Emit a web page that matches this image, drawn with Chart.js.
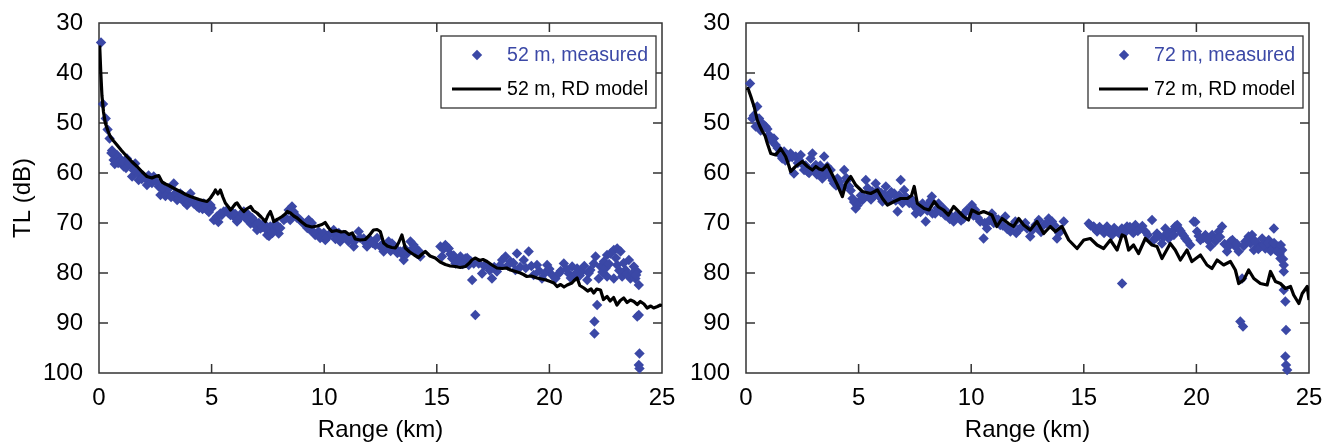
<!DOCTYPE html>
<html>
<head>
<meta charset="utf-8">
<title>TL vs range</title>
<script src="https://cdn.jsdelivr.net/npm/chart.js@4.4.1/dist/chart.umd.min.js"></script>
<style>
  html, body { margin: 0; padding: 0; background: #fff; }
  #wrap { position: relative; width: 1334px; height: 448px; }
  canvas { display: block; position: absolute; top: 0; }
  #tl52 { left: 0; z-index: 2; }
  #tl72 { left: 667px; z-index: 1; }
</style>
</head>
<body>
<div id="wrap">
  <canvas id="tl52" width="680" height="448"></canvas>
  <canvas id="tl72" width="667" height="448"></canvas>
</div>
<script>
// 52 m receiver, measured TL (km / dB)
const m52Range = [0.09, 0.18, 0.30, 0.38, 0.47, 0.58, 0.65, 0.73, 0.80, 0.92, 0.97, 1.10, 1.24, 1.39, 1.47, 1.61, 1.76, 1.84, 1.98, 2.13,
  2.28, 2.43, 2.65, 2.73, 2.87, 3.02, 3.10, 3.32, 3.47, 3.61, 3.76, 3.91, 4.06, 4.21, 4.36, 4.50, 4.65, 4.80, 4.95, 5.10,
  5.24, 5.39, 5.54, 5.69, 5.84, 5.98, 6.13, 6.28, 6.43, 6.58, 6.73, 6.87, 7.02, 7.17, 7.32, 7.47, 7.61, 7.76, 7.91, 7.98,
  8.21, 8.42, 8.49, 8.57, 8.71, 8.94, 9.16, 9.31, 9.38, 9.60, 9.75, 9.90, 10.05, 10.20, 10.42, 10.57, 10.71, 10.86, 11.08, 11.31,
  11.53, 11.75, 11.90, 12.05, 12.27, 12.49, 12.64, 12.86, 13.01, 13.16, 13.38, 13.53, 13.68, 13.83, 13.97, 14.12, 14.27, 15.16, 15.23, 15.38,
  15.53, 15.68, 15.83, 16.05, 16.27, 16.42, 16.57, 16.64, 16.71, 16.86, 17.01, 17.23, 17.45, 17.67, 17.90, 18.05, 18.27, 18.49, 18.56, 18.86,
  19.08, 19.30, 19.45, 19.67, 19.90, 20.12, 20.27, 20.42, 20.64, 20.86, 21.01, 21.23, 21.45, 21.68, 21.82, 21.97, 22.00, 22.00, 22.05, 22.12,
  22.19, 22.27, 22.42, 22.56, 22.56, 22.71, 22.86, 22.86, 23.01, 23.01, 23.16, 23.23, 23.38, 23.53, 23.60, 23.75, 23.82, 23.90, 23.97, 23.90,
  23.97, 24.00, 23.97, 24.00,
  0.55, 0.70, 0.85, 1.05, 1.20, 1.33, 1.55, 1.70, 1.90, 2.05, 2.20, 2.35, 2.55, 2.80, 2.95, 3.20, 3.40, 3.55, 3.70, 3.85,
  4.00, 4.15, 4.30, 4.45, 4.60, 4.75, 4.88, 5.00, 5.30, 5.45,
  5.75, 5.90, 6.05, 6.20, 6.35, 6.50, 6.65, 6.80, 6.95, 7.10, 7.25, 7.40, 7.55, 7.70, 7.85, 8.05, 8.30, 8.65, 8.80, 9.05,
  9.25, 9.45, 9.52, 9.82, 9.98, 10.12, 10.30, 10.50, 10.65, 10.80,
  11.00, 11.20, 11.40, 11.60, 11.85, 12.15, 12.35, 12.55, 12.75, 12.95, 13.10, 13.25, 13.45, 13.60, 13.90, 14.05, 14.20, 15.30, 15.45, 15.60,
  15.75, 15.95, 16.15, 16.35, 16.50,
  17.10, 17.35, 17.55, 17.80, 18.15, 18.40, 18.70, 18.95, 19.20, 19.55, 19.80, 20.00, 20.50, 20.75, 20.95, 21.15, 21.35, 21.55, 21.75, 22.35,
  22.50, 22.65, 22.95, 23.10, 23.30, 23.45, 23.70, 23.85];
const m52TL = [33.9, 46.2, 49.1, 51.3, 53.1, 55.5, 57.4, 57.7, 56.4, 57.1, 57.4, 58.7, 57.1, 58.4, 60.7, 58.1, 61.4, 60.1, 60.7, 62.4,
  61.1, 60.7, 62.7, 64.4, 63.4, 64.1, 63.1, 62.1, 65.4, 64.1, 65.7, 66.4, 64.1, 66.1, 66.7, 66.4, 66.1, 67.4, 66.4, 69.4,
  68.7, 68.1, 67.7, 67.4, 68.4, 68.7, 69.7, 68.7, 67.7, 68.1, 70.1, 69.4, 71.4, 71.1, 70.1, 72.4, 70.7, 71.4, 70.7, 72.1,
  69.4, 67.4, 69.4, 66.7, 68.4, 69.4, 70.1, 69.4, 71.4, 72.4, 71.7, 72.7, 73.4, 72.4, 71.4, 72.7, 73.7, 72.4, 73.7, 74.7,
  71.7, 73.1, 74.7, 73.4, 74.4, 74.7, 75.7, 73.7, 74.1, 75.1, 75.7, 77.4, 76.1, 73.7, 74.4, 76.1, 76.7, 74.7, 76.7, 74.4,
  75.1, 77.1, 78.1, 76.7, 77.1, 78.4, 81.4, 78.1, 88.4, 78.1, 80.1, 78.4, 81.1, 79.7, 77.4, 76.7, 77.7, 79.4, 76.1, 77.4,
  75.7, 80.4, 78.4, 81.1, 78.4, 80.4, 81.1, 80.1, 78.1, 80.1, 78.7, 79.1, 79.7, 81.4, 79.4, 78.1, 89.7, 92.1, 76.7, 86.4,
  81.1, 78.7, 77.7, 76.4, 80.7, 76.1, 75.4, 81.1, 75.1, 78.4, 75.7, 80.7, 79.4, 77.4, 81.1, 78.7, 81.1, 79.7, 82.4, 88.7,
  88.4, 96.1, 98.4, 99.1,
  56.0, 58.2, 58.0, 57.8, 59.0, 58.0, 59.5, 59.8, 61.2, 61.0, 60.5, 62.0, 61.8, 62.8, 64.6, 64.8, 64.0, 65.0, 64.5, 65.2,
  65.8, 65.5, 65.8, 67.0, 67.2, 66.6, 67.8, 67.0, 69.8, 68.4,
  68.0, 67.8, 68.2, 69.2, 68.0, 69.0, 69.5, 69.0, 70.5, 70.0, 70.8, 71.2, 72.6, 72.0, 70.2, 71.0, 69.0, 67.8, 69.0, 70.0,
  71.0, 70.0, 71.8, 73.0, 72.0, 73.0, 72.0, 73.2, 72.0, 73.0,
  72.8, 73.2, 73.4, 73.0, 74.0, 74.0, 73.0, 74.4, 75.0, 75.6, 74.6, 76.0, 76.2, 75.2, 75.2, 75.0, 75.6, 75.2, 74.8, 76.2,
  76.5, 77.5, 78.2, 77.0, 77.6,
  78.6, 79.5, 78.8, 78.5, 78.5, 78.0, 78.8, 79.0, 78.6, 79.6, 80.0, 79.2, 79.6, 79.2, 81.0, 80.2, 80.5, 78.6, 80.0, 79.8,
  79.0, 78.2, 77.0, 79.5, 78.0, 80.2, 80.0, 80.4];

// 52 m receiver, RD model
const rd52Range = [0.03, 0.08, 0.13, 0.20, 0.28, 0.40, 0.50, 0.65, 0.80, 1.00, 1.24, 1.45, 1.69, 1.90, 2.13, 2.35, 2.50, 2.65, 2.80, 2.95,
  3.10, 3.30, 3.47, 3.65, 3.85, 4.06, 4.25, 4.45, 4.60, 4.80, 4.95, 5.10, 5.17, 5.28, 5.39, 5.50, 5.61, 5.75, 5.84, 5.95,
  6.05, 6.13, 6.28, 6.43, 6.55, 6.73, 6.85, 7.02, 7.20, 7.39, 7.50, 7.61, 7.70, 7.76, 7.95, 8.13, 8.27, 8.36, 8.50, 8.65,
  8.80, 9.00, 9.20, 9.45, 9.70, 9.90, 10.04, 10.20, 10.34, 10.55, 10.75, 10.93, 11.10, 11.25, 11.38, 11.60, 11.82, 12.00, 12.19, 12.35,
  12.49, 12.64, 12.80, 13.00, 13.16, 13.30, 13.45, 13.60, 13.80, 14.00, 14.19, 14.35, 14.49, 14.70, 14.93, 15.15, 15.38, 15.60, 15.82, 16.05,
  16.27, 16.45, 16.56, 16.70, 16.90, 17.05, 17.23, 17.45, 17.67, 17.90, 18.10, 18.27, 18.50, 18.71, 18.85, 19.00, 19.20, 19.45, 19.65, 19.85,
  20.04, 20.20, 20.34, 20.50, 20.65, 20.79, 21.00, 21.10, 21.23, 21.35, 21.53, 21.70, 21.85, 21.97, 22.10, 22.27, 22.40, 22.56, 22.70, 22.85,
  23.00, 23.15, 23.30, 23.45, 23.60, 23.75, 23.90, 24.04, 24.20, 24.34, 24.50, 24.63, 24.80, 24.93, 25.00];
const rd52TL = [34.5, 40.0, 44.5, 47.8, 50.0, 51.6, 52.7, 53.6, 54.4, 55.5, 56.7, 57.7, 58.7, 59.7, 60.7, 61.0, 60.7, 60.5, 61.8, 62.2,
  62.5, 63.0, 63.4, 63.8, 64.3, 64.7, 65.0, 65.3, 65.5, 65.7, 65.0, 64.0, 63.4, 64.2, 63.4, 64.8, 66.0, 66.8, 67.4, 66.8,
  66.2, 66.0, 67.0, 67.7, 67.2, 66.7, 67.5, 68.0, 68.8, 69.7, 68.5, 67.7, 68.8, 69.7, 69.2, 68.7, 68.2, 67.7, 68.0, 68.6,
  69.0, 69.8, 70.5, 70.8, 70.6, 70.3, 69.9, 71.0, 71.7, 71.5, 71.8, 71.7, 72.3, 72.0, 73.2, 73.4, 73.3, 72.5, 71.4, 71.3,
  71.7, 74.0, 74.6, 74.9, 75.0, 74.0, 72.4, 75.0, 75.8, 76.4, 76.9, 76.2, 75.7, 76.6, 77.0, 77.8, 78.3, 78.6, 78.7, 78.9,
  78.7, 78.0, 77.4, 77.0, 77.5, 77.3, 77.7, 78.4, 79.0, 79.1, 79.0, 79.4, 79.7, 80.0, 80.3, 80.7, 80.6, 81.0, 81.2, 81.4,
  81.7, 82.0, 82.7, 82.3, 82.8, 82.4, 82.0, 81.5, 81.0, 82.5, 83.0, 83.6, 83.2, 84.0, 83.2, 83.4, 85.3, 84.7, 85.6, 84.9,
  86.4, 85.5, 85.0, 85.9, 85.4, 85.7, 86.3, 85.7, 86.2, 87.0, 86.6, 87.0, 86.7, 86.4, 86.6];

// 72 m receiver, measured TL
const m72Range = [0.18, 0.28, 0.43, 0.50, 0.58, 0.73, 0.87, 1.02, 1.17, 1.24, 1.32, 1.47, 1.61, 1.69, 1.84, 1.98, 2.13, 2.21, 2.36, 2.43,
  2.58, 2.73, 2.87, 2.95, 3.10, 3.24, 3.39, 3.47, 3.61, 3.76, 3.91, 4.06, 4.21, 4.36, 4.50, 4.58, 4.73, 4.87, 5.02, 5.17,
  5.32, 5.47, 5.61, 5.76, 5.91, 6.06, 6.21, 6.36, 6.58, 6.73, 6.87, 7.02, 7.17, 7.39, 7.54, 7.69, 7.84, 7.98, 8.13, 8.28,
  8.25, 8.40, 8.55, 8.77, 8.99, 9.22, 9.44, 9.66, 9.81, 10.03, 10.18, 10.40, 10.55, 10.70, 10.92, 11.07, 11.29, 11.51, 11.74, 11.96,
  12.11, 12.25, 12.48, 12.62, 12.85, 13.00, 13.22, 13.44, 13.59, 13.81, 13.96, 14.11, 15.22, 15.44, 15.59, 15.81, 16.03, 16.25, 16.48, 16.70,
  16.77, 16.69, 16.92, 17.14, 17.29, 17.51, 17.73, 18.03, 18.10, 18.25, 18.47, 18.62, 18.77, 18.92, 19.06, 19.21, 19.36, 19.51, 19.73, 19.88,
  20.03, 20.18, 20.40, 20.62, 20.84, 20.99, 21.14, 21.36, 21.51, 21.73, 21.88, 22.03, 21.95, 22.07, 22.17, 22.32, 22.47, 22.55, 22.69, 22.84,
  22.92, 23.06, 23.21, 23.36, 23.44, 23.51, 23.66, 23.73, 23.81, 23.88, 23.88, 23.88, 23.95, 23.98, 23.95, 23.98, 24.03,
  0.35, 0.65, 0.95, 1.10, 1.40, 1.55, 1.75, 1.90, 2.05, 2.30, 2.50, 2.65, 2.80, 3.00, 3.15, 3.30, 3.55, 3.70, 3.85, 4.00,
  4.15, 4.30, 4.45, 4.65, 4.80, 4.95, 5.10, 5.25, 5.40, 5.55,
  5.70, 5.85, 6.00, 6.15, 6.30, 6.45, 6.65, 6.80, 6.95, 7.10, 7.25, 7.45, 7.60, 7.75, 7.90, 8.05, 8.20, 8.50, 8.65, 8.85,
  9.05, 9.30, 9.55, 9.70, 9.95, 10.10, 10.30, 10.60, 10.80, 11.00,
  11.20, 11.40, 11.60, 11.85, 12.00, 12.40, 12.70, 12.95, 13.10, 13.35, 13.70, 13.90, 15.30, 15.50, 15.70, 15.90, 16.10, 16.35, 16.60, 16.85,
  17.05, 17.20, 17.40, 17.60, 17.85, 18.20, 18.35, 18.55, 18.70, 19.00,
  19.15, 19.30, 19.45, 19.60, 19.95, 20.10, 20.30, 20.50, 20.70, 20.90, 21.05, 21.25, 21.45, 21.60, 21.80, 22.10, 22.25, 22.40, 22.60, 22.75,
  23.00, 23.15, 23.30, 23.45, 23.60, 23.75, 23.70, 23.85];
const m72TL = [42.1, 49.1, 50.7, 46.7, 49.1, 50.1, 50.7, 52.4, 53.7, 53.1, 54.4, 56.1, 57.1, 55.7, 56.4, 56.1, 60.1, 56.7, 57.4, 56.4,
  59.4, 59.7, 57.1, 56.1, 58.4, 59.7, 61.1, 56.7, 58.7, 59.4, 62.1, 61.1, 62.7, 59.4, 61.4, 62.7, 65.1, 67.1, 65.7, 65.4,
  61.4, 64.7, 63.7, 62.1, 64.7, 65.7, 62.7, 64.7, 64.1, 67.7, 61.4, 63.4, 65.1, 65.4, 68.1, 66.7, 66.1, 69.7, 66.1, 68.1,
  64.7, 68.1, 66.1, 67.1, 68.1, 69.7, 68.7, 69.1, 67.4, 66.4, 67.4, 69.7, 73.1, 71.1, 68.1, 69.1, 70.4, 68.7, 71.7, 69.7,
  71.4, 70.7, 71.1, 72.7, 70.4, 69.4, 70.4, 69.1, 69.7, 73.1, 71.4, 69.7, 70.1, 70.7, 71.7, 71.4, 70.7, 72.4, 71.7, 82.1,
  71.4, 71.1, 70.7, 71.7, 70.4, 71.1, 71.7, 69.4, 73.4, 72.1, 74.1, 71.1, 73.1, 71.7, 70.7, 71.1, 72.1, 73.1, 74.4, 69.7,
  71.7, 73.4, 72.4, 74.7, 73.7, 71.7, 70.7, 75.7, 73.7, 74.7, 75.7, 81.1, 89.7, 90.7, 73.7, 72.7, 72.4, 75.4, 74.1, 74.7,
  73.1, 75.1, 73.4, 74.7, 71.1, 75.4, 74.7, 77.1, 75.4, 78.4, 79.7, 83.4, 85.7, 91.4, 96.7, 98.4, 99.4,
  48.5, 51.5, 51.2, 53.0, 55.0, 56.5, 57.5, 57.0, 56.8, 58.0, 58.2, 58.5, 60.0, 59.0, 60.3, 58.5, 60.0, 60.5, 61.5, 62.5,
  61.8, 63.0, 61.0, 63.5, 65.8, 66.5, 64.5, 65.0, 63.0, 65.3,
  64.5, 63.5, 64.0, 64.3, 65.5, 63.8, 65.5, 64.5, 66.0, 64.8, 66.0, 66.5, 67.2, 67.8, 66.8, 67.5, 65.5, 67.0, 67.8, 68.5,
  69.2, 68.6, 69.5, 68.0, 67.8, 68.5, 69.0, 70.0, 69.5, 70.0,
  69.3, 70.5, 71.2, 70.5, 72.0, 70.0, 71.5, 71.0, 71.8, 70.0, 70.5, 72.0, 70.5, 71.2, 70.8, 72.0, 71.8, 71.0, 72.2, 71.8,
  70.8, 72.0, 71.6, 70.6, 72.4, 73.0, 72.6, 72.8, 72.0, 72.4,
  70.4, 71.6, 72.6, 73.6, 69.8, 72.6, 73.0, 73.4, 72.4, 73.0, 72.8, 74.2, 74.6, 73.4, 74.2, 74.6, 73.6, 74.0, 73.6, 75.2,
  74.4, 74.0, 75.6, 74.0, 75.6, 74.4, 76.2, 77.2];

// 72 m receiver, RD model
const rd72Range = [0.05, 0.09, 0.20, 0.36, 0.50, 0.60, 0.73, 0.85, 0.95, 1.10, 1.32, 1.54, 1.76, 1.90, 1.98, 2.20, 2.50, 2.73, 2.95, 3.10,
  3.25, 3.39, 3.61, 3.84, 4.06, 4.28, 4.43, 4.65, 4.87, 5.17, 5.54, 5.84, 6.06, 6.28, 6.58, 6.87, 7.17, 7.35, 7.47, 7.61,
  7.91, 8.13, 8.25, 8.36, 8.55, 8.77, 8.99, 9.22, 9.44, 9.66, 9.88, 10.03, 10.33, 10.55, 10.92, 11.14, 11.37, 11.66, 11.88, 12.11,
  12.33, 12.62, 12.92, 13.22, 13.51, 13.74, 14.03, 14.33, 14.70, 15.00, 15.29, 15.59, 15.88, 16.18, 16.48, 16.70, 16.84, 16.99, 17.21, 17.43,
  17.73, 18.03, 18.25, 18.47, 18.84, 19.06, 19.29, 19.58, 19.80, 20.18, 20.47, 20.69, 20.92, 21.21, 21.51, 21.73, 21.88, 22.10, 22.32, 22.55,
  22.84, 23.14, 23.29, 23.51, 23.73, 23.95, 24.18, 24.32, 24.55, 24.70, 24.92, 25.00];
const rd72TL = [43.5, 43.1, 44.5, 46.7, 49.4, 50.5, 51.7, 52.6, 54.1, 56.1, 56.4, 55.1, 56.7, 58.5, 59.7, 58.7, 57.7, 58.7, 59.4, 58.7,
  59.2, 59.4, 58.4, 60.4, 62.4, 64.7, 62.1, 60.7, 62.4, 63.7, 64.1, 63.4, 65.1, 66.4, 65.7, 65.1, 65.1, 64.5, 62.7, 66.1,
  67.1, 67.4, 66.5, 65.7, 66.8, 67.4, 68.4, 66.7, 67.7, 68.7, 69.4, 67.4, 68.1, 67.7, 68.4, 70.7, 69.1, 70.1, 70.7, 69.1,
  70.4, 71.4, 69.7, 72.1, 70.7, 71.7, 70.7, 73.4, 75.1, 73.4, 73.1, 74.4, 75.1, 73.4, 75.4, 72.4, 72.7, 75.4, 74.4, 76.1,
  73.1, 74.4, 74.7, 77.1, 74.1, 75.4, 77.4, 75.4, 77.7, 76.4, 78.4, 79.1, 77.4, 78.4, 77.7, 79.4, 82.1, 81.4, 79.4, 81.1,
  82.1, 82.4, 79.7, 81.7, 82.1, 83.1, 82.7, 84.4, 86.1, 84.1, 82.7, 85.4];

const BLUE = '#3b48a6';
const FRAME = '#333333';
const TICK_LEN = 9;

Chart.defaults.font.family = "'Liberation Sans', Arial, Helvetica, sans-serif";
Chart.defaults.color = '#000';

const toXY = (xs, ys) => xs.map((v, i) => ({ x: v, y: ys[i] }));

// box round the plot, ticks pointing inward on all four sides
const frameTicks = {
  id: 'frameTicks',
  beforeDatasetsDraw(chart) {
    const { ctx, chartArea: a, scales: { x, y } } = chart;
    ctx.save();
    ctx.strokeStyle = FRAME;
    ctx.lineWidth = 1.5;
    ctx.strokeRect(a.left, a.top, a.right - a.left, a.bottom - a.top);
    ctx.beginPath();
    x.ticks.forEach(t => {
      const px = x.getPixelForValue(t.value);
      if (px <= a.left + 1 || px >= a.right - 1) return;
      ctx.moveTo(px, a.bottom); ctx.lineTo(px, a.bottom - TICK_LEN);
      ctx.moveTo(px, a.top); ctx.lineTo(px, a.top + TICK_LEN);
    });
    y.ticks.forEach(t => {
      const py = y.getPixelForValue(t.value);
      if (py <= a.top + 1 || py >= a.bottom - 1) return;
      ctx.moveTo(a.left, py); ctx.lineTo(a.left + TICK_LEN, py);
      ctx.moveTo(a.right, py); ctx.lineTo(a.right - TICK_LEN, py);
    });
    ctx.stroke();
    ctx.restore();
  }
};

// boxed legend in the top right corner
const boxLegend = {
  id: 'boxLegend',
  afterDatasetsDraw(chart) {
    const { ctx, chartArea: a } = chart;
    const w = 215, h = 72;
    const bx = a.right - 6 - w, by = a.top + 13;
    ctx.save();
    ctx.fillStyle = '#fff';
    ctx.fillRect(bx, by, w, h);
    ctx.strokeStyle = FRAME;
    ctx.lineWidth = 1.3;
    ctx.strokeRect(bx, by, w, h);

    const meas = chart.data.datasets[1];
    const model = chart.data.datasets[0];
    ctx.font = "19.5px 'Liberation Sans', Arial, sans-serif";
    ctx.textAlign = 'right';
    ctx.textBaseline = 'middle';

    // measured row: diamond marker
    const r1 = by + 19;
    const mx = bx + 36, rad = meas.pointRadius;
    ctx.fillStyle = meas.backgroundColor;
    ctx.beginPath();
    ctx.moveTo(mx, r1 - rad); ctx.lineTo(mx + rad, r1);
    ctx.lineTo(mx, r1 + rad); ctx.lineTo(mx - rad, r1);
    ctx.closePath();
    ctx.fill();
    ctx.fillText(meas.label, bx + w - 8, r1 + 1);

    // model row: line sample
    const r2 = by + 53;
    ctx.strokeStyle = model.borderColor;
    ctx.lineWidth = model.borderWidth;
    ctx.beginPath();
    ctx.moveTo(bx + 11, r2); ctx.lineTo(bx + 60, r2);
    ctx.stroke();
    ctx.fillStyle = '#000';
    ctx.fillText(model.label, bx + w - 8, r2 + 1);
    ctx.restore();
  }
};

function makePanel(id, depth, mR, mTL, rR, rTL, yWidth, padRight, showYTitle) {
  return new Chart(document.getElementById(id), {
    type: 'scatter',
    data: {
      datasets: [
        {
          type: 'line',
          label: depth + ' m, RD model',
          data: toXY(rR, rTL),
          borderColor: '#000',
          borderWidth: 3.2,
          borderJoinStyle: 'round',
          pointRadius: 0,
          tension: 0,
          fill: false
        },
        {
          label: depth + ' m, measured',
          data: toXY(mR, mTL),
          pointStyle: 'rectRot',
          pointRadius: 5.2,
          backgroundColor: BLUE,
          borderWidth: 0,
          clip: 6
        }
      ]
    },
    options: {
      responsive: false,
      animation: false,
      layout: { padding: { top: 23, right: padRight, bottom: 0, left: 0 } },
      plugins: {
        legend: { display: false },
        tooltip: { enabled: false }
      },
      scales: {
        x: {
          type: 'linear',
          min: 0,
          max: 25,
          ticks: { stepSize: 5, padding: 11, maxRotation: 0, font: { size: 24 } },
          grid: { display: false, drawTicks: false },
          border: { display: false },
          title: { display: true, text: 'Range (km)', font: { size: 24 }, padding: { top: 0, bottom: 3 } },
          afterFit(s) { s.height = 75; s.paddingLeft = 0; s.paddingRight = 0; }
        },
        y: {
          type: 'linear',
          reverse: true,
          min: 30,
          max: 100,
          ticks: { stepSize: 10, padding: 16, font: { size: 24 } },
          grid: { display: false, drawTicks: false },
          border: { display: false },
          title: { display: showYTitle, text: 'TL (dB)', font: { size: 24 }, padding: { top: 9, bottom: 0 } },
          afterFit(s) { s.width = yWidth; s.paddingTop = 0; s.paddingBottom = 0; }
        }
      }
    },
    plugins: [frameTicks, boxLegend]
  });
}

// left canvas is 13 px wider so the "25" label is not cut; it overlaps empty space of the right one
makePanel('tl52', 52, m52Range, m52TL, rd52Range, rd52TL, 99, 18, true);
makePanel('tl72', 72, m72Range, m72TL, rd72Range, rd72TL, 79, 25, false);
</script>
</body>
</html>
